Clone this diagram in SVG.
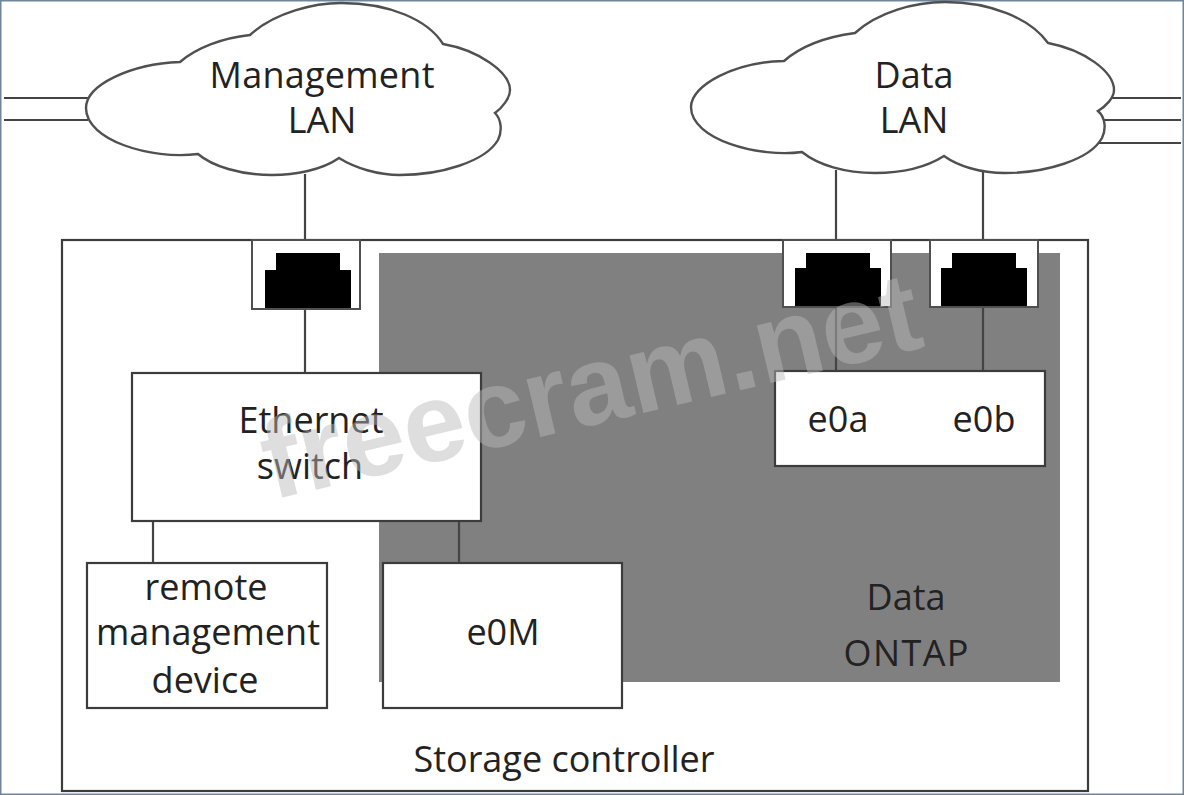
<svg xmlns="http://www.w3.org/2000/svg" width="1184" height="795" viewBox="0 0 1184 795">
<style>
.box{fill:#fff;stroke:#3c3c3c;stroke-width:2.2}
.cloud{fill:#fff;stroke:#505050;stroke-width:2.4;stroke-linejoin:miter}
.port{fill:#fff;stroke:#505050;stroke-width:2}
.jack{fill:#000}
.wire{fill:none;stroke:#444;stroke-width:2.2}
text{font-family:"Open Sans","Noto Sans","Liberation Sans",sans-serif;font-size:36px;fill:#222;text-anchor:middle}
.mark{font-family:"Liberation Sans",Arial,sans-serif;font-weight:700;font-size:112px;fill:#b8b8b8;fill-opacity:.47;text-anchor:start}
</style>
<rect width="1184" height="795" fill="#fff"/>
<rect x="0.75" y="0.75" width="1182.5" height="793.5" fill="none" stroke="#70859b" stroke-width="1.5"/>
<g id="storage-controller">
<rect class="box" x="62" y="240" width="1026" height="551"/>
<text x="564" y="772" textLength="301">Storage controller</text>
</g>
<g id="data-ontap">
<rect x="379" y="253" width="681" height="429" fill="#808080"/>
<text x="906" y="610">Data</text>
<text x="906" y="666" textLength="125">ONTAP</text>
</g>
<g id="connectors">
<path class="wire" d="M4,98H90M4,120H88M1108,98H1181M1104,120H1181M1098,143H1181"/>
<path class="wire" d="M305,174V240M305,309V373M153,521V563M459,521V563M836,170V240M836,306V371M983,170V240M983,306V371"/>
</g>
<g id="management-lan">
<path class="cloud" d="M198,154C150,160 86,140 86,108C86,85 130,64 180,62C196,48 222,38 250,35C275,12 315,3 341,3C390,3 428,20 443,44C478,50 510,72 510,90C510,98 502,108 495,113C502,120 502,132 498,140C485,162 440,175 400,175C378,175 355,168 339,158C322,170 295,175 272,175C240,175 212,166 198,154Z"/>
<text x="322" y="88" textLength="225">Management</text>
<text x="322" y="133">LAN</text>
</g>
<g id="data-lan">
<path class="cloud" d="M802,152C760,158 691,140 691,107C691,85 735,62 784,61C800,47 825,37 855,33C878,12 915,2 945,2C990,2 1030,18 1048,43C1085,50 1114,72 1114,90C1114,98 1106,106 1098,111C1106,118 1106,130 1102,138C1090,160 1045,173 1005,173C980,173 958,166 944,156C925,168 900,173 875,173C845,173 818,165 802,152Z"/>
<text x="914" y="88">Data</text>
<text x="914" y="133">LAN</text>
</g>
<g id="port-management">
<rect class="port" x="252" y="240" width="108" height="69"/>
<path class="jack" d="M276,253H340V270H351V308H265V270H276Z"/>
</g>
<g id="port-e0a">
<rect class="port" x="783" y="240" width="108" height="67"/>
<path class="jack" d="M806,253H870V268H881V306H795V268H806Z"/>
</g>
<g id="port-e0b">
<rect class="port" x="930" y="240" width="108" height="67"/>
<path class="jack" d="M952,253H1016V268H1027V306H941V268H952Z"/>
</g>
<g id="ethernet-switch">
<rect class="box" x="132" y="373" width="349" height="148"/>
<text x="311" y="433">Ethernet</text>
<text x="310" y="479">switch</text>
</g>
<g id="e0a-e0b">
<rect class="box" x="775" y="371" width="270" height="95"/>
<text x="838" y="432">e0a</text>
<text x="984" y="432">e0b</text>
</g>
<g id="remote-management-device">
<rect class="box" x="87" y="563" width="240" height="145"/>
<text x="206" y="600">remote</text>
<text x="208" y="645" textLength="224">management</text>
<text x="205" y="693">device</text>
</g>
<g id="e0M">
<rect class="box" x="383" y="563" width="239" height="145"/>
<text x="503" y="645">e0M</text>
</g>
<text class="mark" x="272" y="500" transform="rotate(-13.2 272 500)">freecram.net</text>
</svg>
